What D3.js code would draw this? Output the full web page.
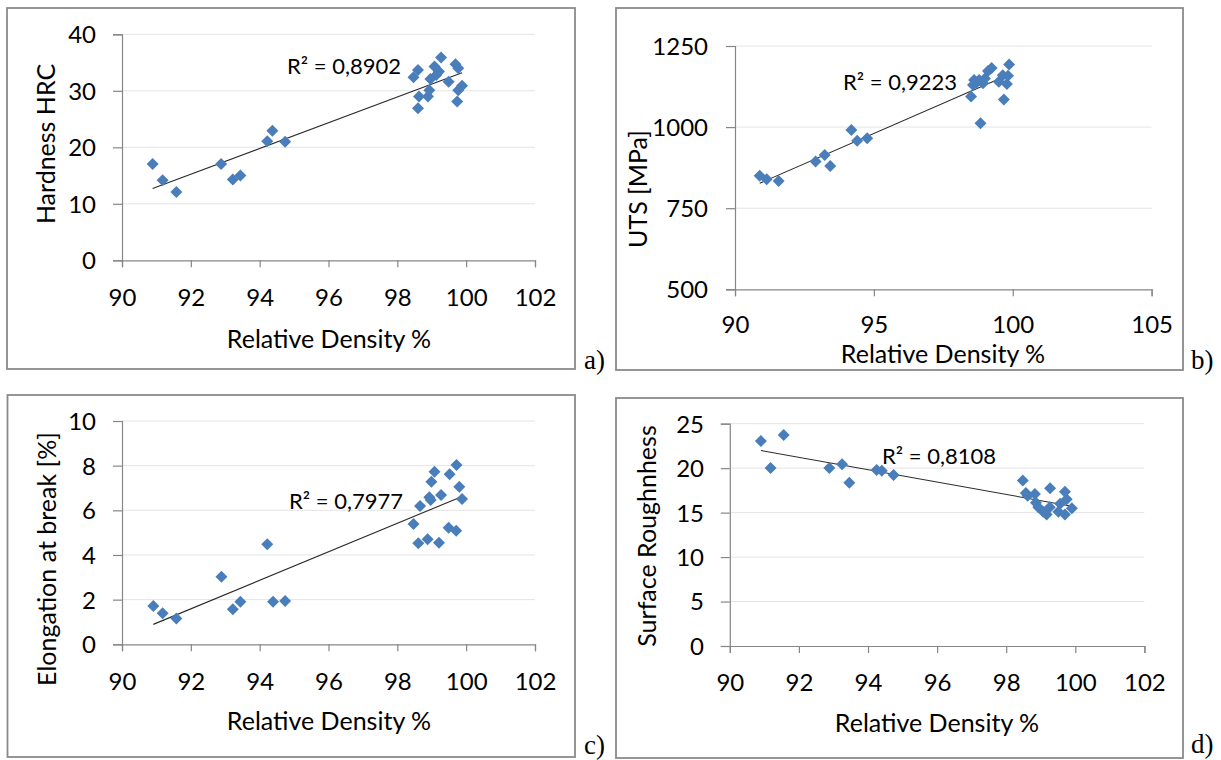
<!DOCTYPE html>
<html>
<head>
<meta charset="utf-8">
<script src="https://cdn.jsdelivr.net/npm/d3@7"></script>
<style>
  html, body { margin: 0; padding: 0; background: #fff; }
  svg { display: block; }
  text { font-family: Lato, "Open Sans", sans-serif; fill: #000; }
</style>
</head>
<body>
<svg id="chart" width="1221" height="760"></svg>
<script>
// ---- Data ----
const densityA = [90.89, 91.18, 91.58, 92.88, 93.22, 93.44, 94.22, 94.37, 94.74, 98.47, 98.6, 98.6, 98.63, 98.89, 98.93, 98.96, 99.08, 99.13, 99.21, 99.27, 99.49, 99.69, 99.77, 99.74, 99.77, 99.88];
const hardness = [17.05, 14.16, 12.09, 17.05, 14.3, 15.0, 21.06, 22.95, 21.0, 32.4, 33.7, 26.9, 29.0, 29.0, 30.1, 32.1, 34.3, 32.8, 33.4, 35.9, 31.6, 34.7, 34.0, 28.1, 30.1, 30.9];

const densityB = [90.89, 91.14, 91.57, 92.9, 93.23, 93.43, 94.19, 94.4, 94.76, 98.5, 98.57, 98.61, 98.69, 98.79, 98.84, 98.93, 99.0, 99.11, 99.24, 99.5, 99.64, 99.68, 99.79, 99.83, 99.87];
const uts = [850, 839, 834, 894, 914, 880, 991, 958, 966, 1094, 1130, 1145, 1137, 1145, 1012, 1135, 1150, 1173, 1182, 1140, 1160, 1085, 1133, 1158, 1193];

const densityC = [90.91, 91.18, 91.58, 92.89, 93.22, 93.44, 94.22, 94.39, 94.74, 98.47, 98.61, 98.66, 98.88, 98.93, 98.97, 98.99, 99.08, 99.21, 99.27, 99.49, 99.52, 99.71, 99.72, 99.8, 99.88];
const elongation = [1.72, 1.39, 1.16, 3.03, 1.57, 1.91, 4.48, 1.91, 1.94, 5.39, 4.52, 6.19, 4.7, 6.58, 6.46, 7.28, 7.73, 4.55, 6.69, 5.22, 7.61, 5.09, 8.03, 7.06, 6.51];

const densityD = [90.9, 91.18, 91.56, 92.88, 93.25, 93.46, 94.25, 94.4, 94.74, 98.48, 98.57, 98.62, 98.83, 98.86, 98.93, 99.07, 99.17, 99.26, 99.27, 99.51, 99.56, 99.7, 99.75, 99.7, 99.9];
const roughness = [23.05, 20.01, 23.73, 20.01, 20.43, 18.37, 19.79, 19.72, 19.23, 18.6, 17.2, 16.9, 17.1, 16.1, 15.6, 15.1, 14.8, 15.6, 17.75, 15.1, 16.0, 17.35, 16.5, 14.8, 15.5];

const xTicks102 = [90, 92, 94, 96, 98, 100, 102];
const xTicks105 = [90, 95, 100, 105];
const yTicksA = [0, 10, 20, 30, 40];
const yTicksB = [500, 750, 1000, 1250];
const yTicksC = [0, 2, 4, 6, 8, 10];
const yTicksD = [0, 5, 10, 15, 20, 25];

const yTitles = ["Hardness HRC", "UTS [MPa]", "Elongation at break [%]", "Surface Roughnhess"];
const xTitle = "Relative Density %";
const r2Labels = ["R² = 0,8902", "R² = 0,9223", "R² = 0,7977", "R² = 0,8108"];
const panelLetters = ["a)", "b)", "c)", "d)"];

// ---- Layout ----
const panels = [
  { xs: densityA, ys: hardness, xt: xTicks102, yt: yTicksA,
    box: [7, 8, 575, 369], px: [122, 535], py: [260.3, 34.3],
    yTitleX: 46, yTitleY: 144, xTitleX: 329, xTitleY: 339, xTickY: 298, yTickX: 96,
    r2: [287, 66], letter: [584, 369] },
  { xs: densityB, ys: uts, xt: xTicks105, yt: yTicksB,
    box: [616, 8, 1183, 370], px: [735, 1151.6], py: [289.3, 46],
    yTitleX: 638, yTitleY: 189, xTitleX: 943, xTitleY: 354, xTickY: 325, yTickX: 708,
    r2: [843, 82], letter: [1191, 369] },
  { xs: densityC, ys: elongation, xt: xTicks102, yt: yTicksC,
    box: [7.5, 395, 575, 757], px: [122, 535], py: [644.3, 421],
    yTitleX: 47, yTitleY: 559, xTitleX: 329, xTitleY: 721, xTickY: 682, yTickX: 96,
    r2: [289, 501], letter: [584, 754] },
  { xs: densityD, ys: roughness, xt: xTicks102, yt: yTicksD,
    box: [616, 398, 1183, 758], px: [729.8, 1144.4], py: [646, 423.7],
    yTitleX: 647, yTitleY: 536, xTitleX: 937, xTitleY: 723, xTickY: 683, yTickX: 704,
    r2: [882, 456], letter: [1191, 753] }
];

const svg = d3.select("#chart");
svg.append("rect").attr("width", 1221).attr("height", 760).attr("fill", "#fff");

const axisColor = "#868686";
const markerColor = "#4a7ebb";
const diamond = d3.symbol().type(d3.symbolSquare).size(72);

function linreg(xs, ys) {
  const mx = d3.mean(xs), my = d3.mean(ys);
  let sxy = 0, sxx = 0;
  xs.forEach((x, i) => { sxy += (x - mx) * (ys[i] - my); sxx += (x - mx) * (x - mx); });
  const b = sxy / sxx;
  return { a: my - b * mx, b };
}

panels.forEach((p, idx) => {
  const g = svg.append("g");
  const x = d3.scaleLinear().domain([p.xt[0], p.xt[p.xt.length - 1]]).range(p.px);
  const y = d3.scaleLinear().domain([p.yt[0], p.yt[p.yt.length - 1]]).range(p.py);

  // outer frame
  g.append("rect")
    .attr("x", p.box[0]).attr("y", p.box[1])
    .attr("width", p.box[2] - p.box[0]).attr("height", p.box[3] - p.box[1])
    .attr("fill", "#fff").attr("stroke", "#8a8a8a").attr("stroke-width", 1.8);

  // gridlines
  g.selectAll(".grid").data(p.yt.slice(1)).enter().append("line")
    .attr("x1", p.px[0]).attr("x2", p.px[1])
    .attr("y1", d => y(d)).attr("y2", d => y(d))
    .attr("stroke", "#e4e4e4").attr("stroke-width", 1);

  // y axis
  const yAxis = d3.axisLeft(y).tickValues(p.yt).tickSize(9).tickPadding(0).tickFormat(d3.format("d"));
  const ya = g.append("g").attr("transform", `translate(${p.px[0]},0)`).call(yAxis);
  ya.select(".domain").attr("stroke", axisColor).attr("stroke-width", 1.2);
  ya.selectAll(".tick line").attr("stroke", axisColor).attr("stroke-width", 1.2);
  ya.selectAll(".tick text")
    .attr("x", p.yTickX - p.px[0]).attr("dy", "0.35em")
    .attr("text-anchor", "end")
    .style("font-family", "Lato, sans-serif").style("font-size", "24px").attr("fill", "#000");

  // x axis
  const xAxis = d3.axisBottom(x).tickValues(p.xt).tickSize(7).tickPadding(0).tickFormat(d3.format("d"));
  const xa = g.append("g").attr("transform", `translate(0,${p.py[0]})`).call(xAxis);
  xa.select(".domain").attr("stroke", axisColor).attr("stroke-width", 1.2);
  xa.selectAll(".tick line").attr("stroke", axisColor).attr("stroke-width", 1.2);
  xa.selectAll(".tick text")
    .attr("y", p.xTickY - p.py[0]).attr("dy", "0.35em")
    .style("font-family", "Lato, sans-serif").style("font-size", "24px").attr("fill", "#000");

  // trendline (least squares over the data range)
  const r = linreg(p.xs, p.ys);
  const x0 = d3.min(p.xs), x1 = d3.max(p.xs);
  g.append("line")
    .attr("x1", x(x0)).attr("y1", y(r.a + r.b * x0))
    .attr("x2", x(x1)).attr("y2", y(r.a + r.b * x1))
    .attr("stroke", "#2a2a2a").attr("stroke-width", 1.1);

  // markers
  g.selectAll(".pt").data(p.xs.map((v, i) => [v, p.ys[i]])).enter().append("path")
    .attr("d", diamond)
    .attr("transform", d => `translate(${x(d[0])},${y(d[1])}) rotate(45)`)
    .attr("fill", markerColor);

  // R² label
  g.append("text").attr("x", p.r2[0]).attr("y", p.r2[1]).attr("dy", "0.35em")
    .style("font-size", "22px").text(r2Labels[idx]);

  // axis titles
  g.append("text")
    .attr("transform", `translate(${p.yTitleX},${p.yTitleY}) rotate(-90)`)
    .attr("text-anchor", "middle").attr("dy", "0.35em")
    .style("font-size", "25px").text(yTitles[idx]);
  g.append("text").attr("x", p.xTitleX).attr("y", p.xTitleY).attr("dy", "0.35em")
    .attr("text-anchor", "middle").style("font-size", "25px").text(xTitle);

  // panel letter
  g.append("text").attr("x", p.letter[0]).attr("y", p.letter[1])
    .style("font-family", "'Liberation Serif', 'Times New Roman', serif")
    .style("font-size", "27px").text(panelLetters[idx]);
});
</script>
</body>
</html>
